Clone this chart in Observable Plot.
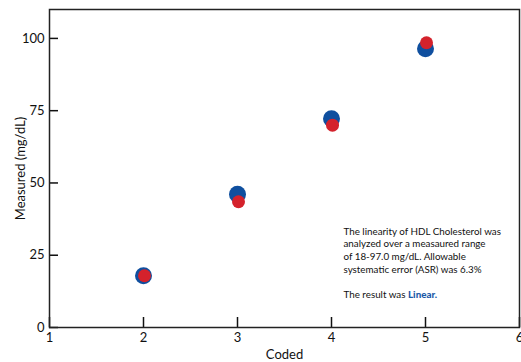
<!DOCTYPE html>
<html>
<head>
<meta charset="utf-8">
<script src="https://cdn.jsdelivr.net/npm/d3@7"></script>
<script src="https://cdn.jsdelivr.net/npm/@observablehq/plot@0.6"></script>
<style>
  html, body { margin: 0; padding: 0; background: #fff; }
  #chart { width: 521px; height: 362px; overflow: hidden; }
</style>
</head>
<body>
<div id="chart"></div>
<script>
const coded = [2, 3, 4, 5];
const measuredBlue = [17.9, 46.1, 72.2, 96.4];
const measuredRed = [17.9, 43.5, 70.0, 98.5];
const xTicks = [1, 2, 3, 4, 5, 6];
const yTicks = [0, 25, 50, 75, 100];
const noteLines = [
  "The linearity of HDL Cholesterol was",
  "analyzed over a measaured range",
  "of 18-97.0 mg/dL. Allowable",
  "systematic error (ASR) was 6.3%",
  "",
  "The result was "
];
const resultWord = "Linear.";

const blueData = coded.map((c, i) => ({x: c, y: measuredBlue[i]}));
const redData = coded.map((c, i) => ({x: c, y: measuredRed[i]}));

const font = "Lato, 'Open Sans', sans-serif";

const plot = Plot.plot({
  width: 521,
  height: 362,
  marginLeft: 49,
  marginRight: 2,
  marginTop: 9,
  marginBottom: 35,
  style: {fontFamily: font, fontSize: "12px", color: "#111", background: "#fff", overflow: "visible"},
  x: {domain: [1, 6]},
  y: {domain: [0, 110]},
  marks: [
    Plot.axisX({ticks: xTicks, tickSize: 0, tickPadding: 5, tickFormat: d3.format("d"), fontSize: 13, label: "Coded", labelAnchor: "center", labelArrow: "none", labelOffset: 31}),
    Plot.axisY({ticks: yTicks, tickSize: 0, tickPadding: 5, tickFormat: d3.format("d"), fontSize: 13, label: "Measured (mg/dL)", labelAnchor: "center", labelArrow: "none", labelOffset: 34}),
    Plot.tickX(xTicks, {x: d => d, insetTop: 308, stroke: "#111", strokeWidth: 1.5}),
    Plot.tickY(yTicks, {y: d => d, insetRight: 461, stroke: "#111", strokeWidth: 1.5}),
    Plot.frame({stroke: "#222", strokeWidth: 1.5}),
    Plot.dot(blueData, {x: "x", y: "y", r: 8.5, fill: "#0f4f9f"}),
    Plot.dot(redData, {x: "x", y: "y", r: 6.5, fill: "#d4222c", dx: 1}),
    Plot.text([noteLines.join("\n")], {frameAnchor: "top-left", dx: 294, dy: 216, textAnchor: "start", lineAnchor: "top", lineHeight: 1.3, fontSize: 9.8, fill: "#111", className: "note"})
  ]
});
document.getElementById("chart").appendChild(plot);

// append the bold blue word to the last line of the note
const noteText = plot.querySelector(".note text");
if (noteText) {
  const spans = noteText.querySelectorAll("tspan");
  const last = spans[spans.length - 1];
  const b = document.createElementNS("http://www.w3.org/2000/svg", "tspan");
  b.textContent = resultWord;
  b.setAttribute("font-weight", "bold");
  b.setAttribute("fill", "#1d5aa8");
  b.style.fill = "#1d5aa8";
  b.style.fontWeight = "900";
  last.appendChild(b);
}
</script>
</body>
</html>
